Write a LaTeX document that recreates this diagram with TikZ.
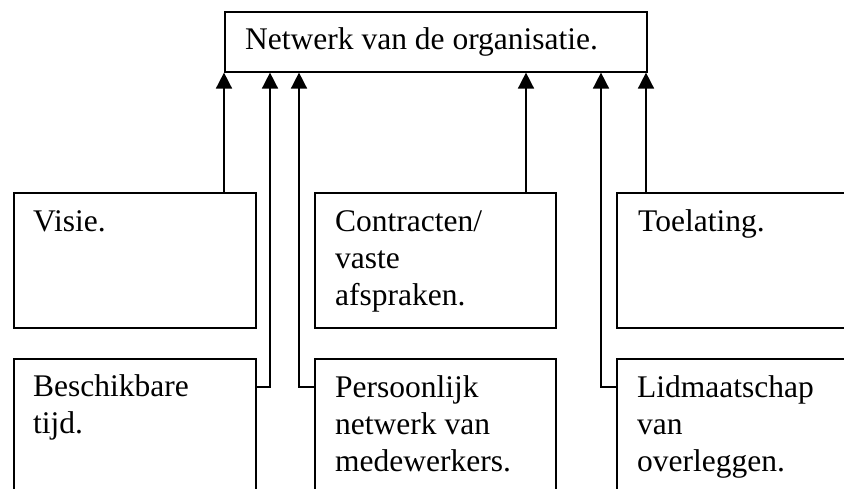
\documentclass[tikz,border=0pt]{standalone}
\usepackage{fontspec}
\setmainfont{Liberation Serif}
\usetikzlibrary{arrows.meta,calc}
% stacked lines whose baseline is that of the first line
\newcommand\boxlines[1]{\begin{tabular}[t]{@{}l@{}}#1\end{tabular}}
\begin{document}
\begin{tikzpicture}[x=1pt,y=-1pt,
  box/.style={draw,line width=1.6pt,rectangle,inner sep=0pt,anchor=north west},
  label/.style={anchor=base west,inner sep=0pt,
    font=\fontsize{31.5}{37}\selectfont},
  arr/.style={line width=1.6pt,-{Triangle[width=16pt,length=16pt]}}]
\clip (0,0) rectangle (844,489);
\useasboundingbox (0,0) rectangle (844,489);
% main box
\node[box,minimum width=422pt,minimum height=60pt] (top) at (224,11) {};
\node[label] (tTop) at ($(top.north west)+(21,39)$) {Netwerk van de organisatie.};
% upper row
\node[box,minimum width=242pt,minimum height=135pt] (visie) at (13,192) {};
\node[box,minimum width=241pt,minimum height=135pt] (contr) at (314,192) {};
\node[box,minimum width=241pt,minimum height=135pt] (toel) at (616,192) {};
% lower row
\node[box,minimum width=242pt,minimum height=150pt] (besch) at (13,358) {};
\node[box,minimum width=241pt,minimum height=150pt] (pers) at (314,358) {};
\node[box,minimum width=241pt,minimum height=150pt] (lid) at (616,358) {};
% texts
\node[label] (tVisie) at ($(visie.north west)+(20,40)$) {Visie.};
\node[label] (tContr) at ($(contr.north west)+(21,40)$) {\boxlines{Contracten/\\vaste\\afspraken.}};
\node[label] (tToel) at ($(toel.north west)+(22,40)$) {Toelating.};
\node[label] (tBesch) at ($(besch.north west)+(20,38)$) {\boxlines{Beschikbare\\tijd.}};
\node[label] (tPers) at ($(pers.north west)+(21,39)$) {\boxlines{Persoonlijk\\netwerk van\\medewerkers.}};
\node[label] (tLid) at ($(lid.north west)+(21,39)$) {\boxlines{Lidmaatschap\\van\\overleggen.}};
% connectors
\draw[arr] ($(visie.north west)+(211,0)$) coordinate (v1) -- (v1 |- top.south);
\draw[arr] ($(contr.north west)+(212,0)$) coordinate (c1) -- (c1 |- top.south);
\draw[arr] ($(toel.north west)+(30,0)$) coordinate (t1) -- (t1 |- top.south);
\draw[arr] ($(besch.north east)+(0,29)$) -| ($(top.south west)+(46,0)$);
\draw[arr] ($(pers.north west)+(0,29)$) -| ($(top.south west)+(75,0)$);
\draw[arr] ($(lid.north west)+(0,29)$) -| ($(top.south west)+(377,0)$);
\end{tikzpicture}
\end{document}
